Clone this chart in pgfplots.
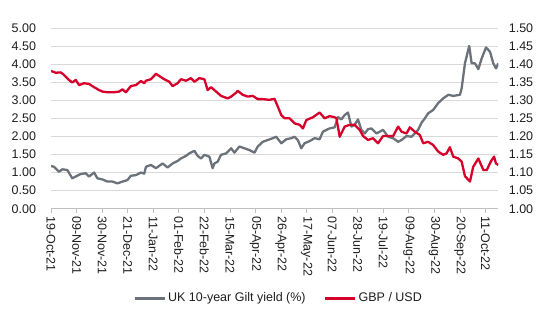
\documentclass[border=0pt]{standalone}
\usepackage{pgfplots}
\pgfplotsset{compat=1.18}
\usepackage{fontspec}
\setmainfont{Liberation Sans}
\definecolor{giltgray}{RGB}{107,114,122}
\definecolor{gbpred}{RGB}{214,0,42}
\definecolor{gridgray}{RGB}{217,217,217}
\definecolor{axisgray}{RGB}{191,191,191}
\definecolor{txt}{RGB}{30,30,30}
\pgfplotstableread{
day val
0 1.18
2.5 1.16
6.6 1.02
9.3 1.09
13.4 1.07
17.5 0.84
20.3 0.89
24.5 0.96
28.6 0.98
31.3 0.89
35.4 1.00
38.1 0.84
42.2 0.81
46.4 0.75
50.5 0.75
54.6 0.70
58.7 0.75
62.8 0.79
65.6 0.91
69.8 0.93
73.9 1.00
76.6 0.97
78 1.16
82.1 1.21
86.2 1.12
91.7 1.25
95.8 1.14
99.9 1.25
104 1.32
106.8 1.39
110.9 1.46
113.6 1.53
117.8 1.60
120.5 1.46
123.3 1.39
126 1.49
130.1 1.44
132.8 1.12
134.2 1.25
136.9 1.30
139.7 1.49
143.9 1.53
148 1.67
150.7 1.55
154.8 1.72
158.9 1.67
163.1 1.62
167.2 1.55
169.9 1.72
174 1.85
178.1 1.90
182.2 1.95
185 1.99
189.2 1.81
193.3 1.92
197.4 1.95
200.1 1.99
202.8 1.90
205.6 1.67
208.3 1.81
212.5 1.87
216.6 1.95
220.7 1.92
223.4 2.13
227.5 2.20
228.9 2.22
233 2.25
235.8 2.53
238.6 2.47
241.3 2.59
244 2.66
246.8 2.27
249.5 2.32
252.2 2.47
255 2.18
257.8 2.08
260.5 2.20
263.3 2.22
267.4 2.08
270.1 2.13
272.8 2.18
277 1.99
281.1 1.95
285.2 1.85
288 1.90
292.1 2.01
296.2 1.99
298.9 2.08
301.6 2.18
304.5 2.38
307.2 2.50
309.9 2.64
314 2.73
318.1 2.92
322.2 3.05
326.4 3.15
330.5 3.12
336 3.15
337.4 3.33
340.1 4.02
343.6 4.50
345.6 4.02
348.3 4.02
351.1 3.86
353.9 4.16
357.4 4.46
360.7 4.34
363.4 4.02
365.6 3.88
367.5 4.02
}\gilt
\pgfplotstableread{
day val
0 1.381
3.9 1.376
8 1.377
10.7 1.370
14.8 1.356
17.5 1.349
20.3 1.356
23.1 1.342
27.2 1.347
31.3 1.345
35.4 1.336
39.5 1.328
42.2 1.324
46.4 1.322
51.9 1.322
56 1.324
58.7 1.330
61.5 1.322
65.6 1.339
69.8 1.342
73.9 1.353
76.6 1.347
78 1.354
82.1 1.358
86.2 1.373
88.9 1.367
93.1 1.358
97.2 1.351
99.9 1.339
104 1.347
106.8 1.358
110.9 1.354
115 1.361
117.8 1.351
121.9 1.361
126 1.358
128.7 1.328
131.5 1.336
135.6 1.324
139.7 1.312
145.2 1.305
148 1.310
152.1 1.321
153.4 1.326
157.5 1.315
161.7 1.310
165.8 1.312
169.9 1.303
174 1.303
179.5 1.301
183.6 1.304
186.4 1.282
189.2 1.259
191.9 1.250
196 1.250
200.1 1.236
204.2 1.232
207 1.222
209.7 1.245
215.2 1.253
220.7 1.266
224.8 1.250
228.9 1.256
233 1.253
234.5 1.250
237.2 1.199
241.3 1.227
245.4 1.232
249.5 1.232
253.6 1.218
256.4 1.201
260.5 1.190
264.6 1.195
268.7 1.181
272.8 1.201
277 1.201
281.1 1.201
285.2 1.227
288 1.213
292.1 1.208
294.8 1.225
298.9 1.213
303 1.204
305.8 1.181
309.9 1.185
314 1.176
318.1 1.158
322.2 1.149
325 1.153
327.7 1.170
330.5 1.144
334.6 1.139
337.4 1.130
340.1 1.090
344.2 1.075
346.9 1.116
351.1 1.139
355.2 1.107
358 1.107
361.3 1.130
364 1.144
365.6 1.125
367.5 1.121
}\gbp
\begin{document}
\begin{tikzpicture}[font=\fontsize{12.5bp}{15bp}\selectfont, every node/.append style={text=txt}]
\path[use as bounding box] (0,0) rectangle (550bp,330bp);
\pgfplotsset{
  myaxis/.style={
    at={(51bp,121.3bp)}, anchor=south west,
    scale only axis, width=447.3bp, height=180.8bp,
    xmin=0, xmax=367.5,
    /pgf/number format/assume math mode=true,
    tick label style={font=\fontsize{12.5bp}{15bp}\selectfont, text=txt},
  }
}
\begin{axis}[myaxis,
  ymin=0, ymax=5,
  axis x line*=bottom, axis y line*=left,
  y axis line style={draw=none},
  x axis line style={axisgray, line width=0.8bp},
  ytick={0,0.5,1,1.5,2,2.5,3,3.5,4,4.5,5},
  ytick style={draw=none},
  yticklabel style={/pgf/number format/.cd, fixed, fixed zerofill, precision=2, /tikz/.cd, xshift=-7.5bp},
  ymajorgrids, grid style={gridgray, line width=0.8bp},
  xtick={0,21,42,63,84,105,126,147,168,189,210,231,252,273,294,315,336,357},
  xticklabels={19-Oct-21,09-Nov-21,30-Nov-21,21-Dec-21,11-Jan-22,01-Feb-22,22-Feb-22,15-Mar-22,05-Apr-22,26-Apr-22,17-May-22,07-Jun-22,28-Jun-22,19-Jul-22,09-Aug-22,30-Aug-22,20-Sep-22,11-Oct-22},
  xticklabel style={rotate=-90, anchor=west, xshift=0bp},
  xtick style={axisgray, line width=0.8bp},
  tick align=outside, major tick length=4bp,
]
\addplot[giltgray, line width=2.3bp, line join=round] table[x=day, y=val] {\gilt};
\end{axis}
\begin{axis}[myaxis,
  ymin=1, ymax=1.5,
  axis x line=none, axis y line*=right,
  y axis line style={draw=none},
  ytick={1,1.05,1.1,1.15,1.2,1.25,1.3,1.35,1.4,1.45,1.5},
  ytick style={draw=none},
  yticklabel style={/pgf/number format/.cd, fixed, fixed zerofill, precision=2, /tikz/.cd, xshift=7bp},
  legend columns=2,
  legend style={draw=none, fill=none, at={(0.5086,-0.494)}, anchor=center,
    font=\fontsize{12.5bp}{15bp}\selectfont, text=txt,
    /tikz/every even column/.append style={column sep=16bp}},
  legend image code/.code={\draw[#1, line width=3bp] (0bp,0bp) -- (30bp,0bp);},
]
\addlegendimage{giltgray}
\addlegendentry{UK 10-year Gilt yield (\%)}
\addplot[gbpred, line width=2.3bp, line join=round] table[x=day, y=val] {\gbp};
\addlegendentry{GBP / USD}
\end{axis}
\end{tikzpicture}
\end{document}
